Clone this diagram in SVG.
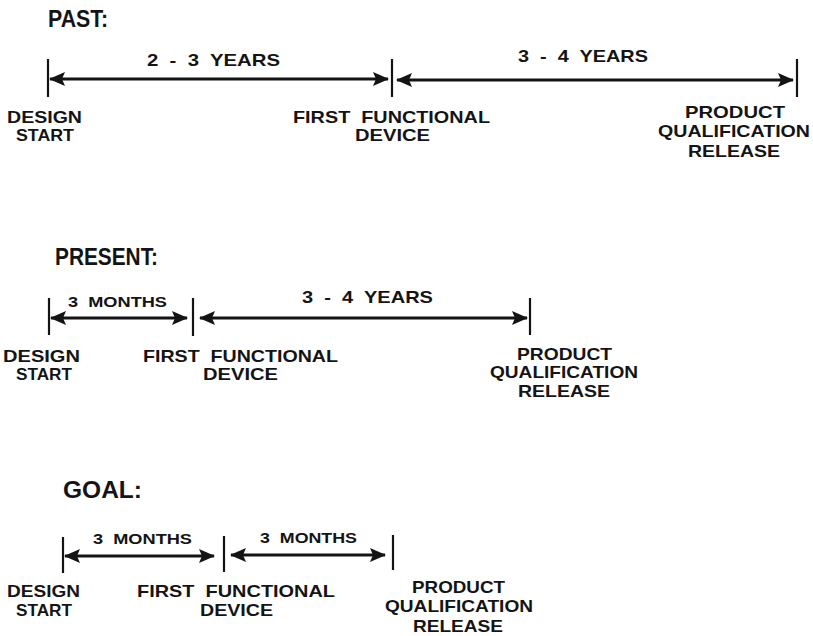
<svg xmlns="http://www.w3.org/2000/svg" width="813" height="636" viewBox="0 0 813 636" xml:space="preserve">
  <style>
    text { font-family: "Liberation Sans", Arial, Helvetica, sans-serif; font-weight: bold; fill: #141414; white-space: pre; }
    .head { font-size: 23px; }
    .lbl { font-size: 16.5px; }
    .dur { font-size: 17px; }
    .dur.sm { font-size: 15.5px; }
    .tick { stroke: #141414; stroke-width: 2.2; fill: none; }
    .span { stroke: #141414; stroke-width: 2.8; fill: none; marker-start: url(#arrowhead); marker-end: url(#arrowhead); }
  </style>
  <defs>
    <marker id="arrowhead" markerUnits="userSpaceOnUse" viewBox="0 0 16 14" markerWidth="16" markerHeight="14" refX="15" refY="7" orient="auto-start-reverse">
      <path d="M0,0 L16,7 L0,14 L3,7 z" fill="#141414"/>
    </marker>
  </defs>
  <rect width="813" height="636" fill="#fff"/>

  <!-- section headings -->
  <g id="headings">
    <text class="head" x="48" y="27" textLength="60" lengthAdjust="spacingAndGlyphs">PAST:</text>
    <text class="head" x="55" y="265" textLength="103" lengthAdjust="spacingAndGlyphs">PRESENT:</text>
    <text class="head" x="63" y="498" textLength="79" lengthAdjust="spacingAndGlyphs">GOAL:</text>
  </g>

  <!-- PAST timeline milestones -->
  <g id="past-design-start">
    <line class="tick" x1="48" y1="59" x2="48" y2="97"/>
    <text class="lbl" x="7" y="123" textLength="75" lengthAdjust="spacingAndGlyphs">DESIGN</text>
    <text class="lbl" x="16" y="141" textLength="58" lengthAdjust="spacingAndGlyphs">START</text>
  </g>
  <g id="past-first-device">
    <line class="tick" x1="392" y1="59" x2="392" y2="97"/>
    <text class="lbl" x="293" y="123" textLength="197" lengthAdjust="spacingAndGlyphs">FIRST  FUNCTIONAL</text>
    <text class="lbl" x="355" y="141" textLength="75" lengthAdjust="spacingAndGlyphs">DEVICE</text>
  </g>
  <g id="past-qualification">
    <line class="tick" x1="797" y1="59" x2="797" y2="97"/>
    <text class="lbl" x="685" y="118" textLength="100" lengthAdjust="spacingAndGlyphs">PRODUCT</text>
    <text class="lbl" x="658" y="137" textLength="152" lengthAdjust="spacingAndGlyphs">QUALIFICATION</text>
    <text class="lbl" x="688" y="157" textLength="92" lengthAdjust="spacingAndGlyphs">RELEASE</text>
  </g>

  <!-- PRESENT timeline milestones -->
  <g id="present-design-start">
    <line class="tick" x1="49" y1="298" x2="49" y2="335"/>
    <text class="lbl" x="3" y="362" textLength="77" lengthAdjust="spacingAndGlyphs">DESIGN</text>
    <text class="lbl" x="16" y="380" textLength="56" lengthAdjust="spacingAndGlyphs">START</text>
  </g>
  <g id="present-first-device">
    <line class="tick" x1="193" y1="298" x2="193" y2="336"/>
    <text class="lbl" x="143" y="362" textLength="195" lengthAdjust="spacingAndGlyphs">FIRST  FUNCTIONAL</text>
    <text class="lbl" x="203" y="380" textLength="75" lengthAdjust="spacingAndGlyphs">DEVICE</text>
  </g>
  <g id="present-qualification">
    <line class="tick" x1="530" y1="298" x2="530" y2="335"/>
    <text class="lbl" x="517" y="360" textLength="95" lengthAdjust="spacingAndGlyphs">PRODUCT</text>
    <text class="lbl" x="490" y="378" textLength="148" lengthAdjust="spacingAndGlyphs">QUALIFICATION</text>
    <text class="lbl" x="518" y="397" textLength="92" lengthAdjust="spacingAndGlyphs">RELEASE</text>
  </g>

  <!-- GOAL timeline milestones -->
  <g id="goal-design-start">
    <line class="tick" x1="63" y1="537" x2="63" y2="573"/>
    <text class="lbl" x="7" y="597" textLength="73" lengthAdjust="spacingAndGlyphs">DESIGN</text>
    <text class="lbl" x="16" y="616" textLength="56" lengthAdjust="spacingAndGlyphs">START</text>
  </g>
  <g id="goal-first-device">
    <line class="tick" x1="224" y1="536" x2="224" y2="572"/>
    <text class="lbl" x="137" y="597" textLength="198" lengthAdjust="spacingAndGlyphs">FIRST  FUNCTIONAL</text>
    <text class="lbl" x="200" y="616" textLength="73" lengthAdjust="spacingAndGlyphs">DEVICE</text>
  </g>
  <g id="goal-qualification">
    <line class="tick" x1="393" y1="535" x2="393" y2="570"/>
    <text class="lbl" x="412" y="593" textLength="93" lengthAdjust="spacingAndGlyphs">PRODUCT</text>
    <text class="lbl" x="385" y="612" textLength="148" lengthAdjust="spacingAndGlyphs">QUALIFICATION</text>
    <text class="lbl" x="413" y="632" textLength="90" lengthAdjust="spacingAndGlyphs">RELEASE</text>
  </g>

  <!-- duration spans between milestones -->
  <g id="connectors">
    <line class="span" x1="50" y1="79" x2="388" y2="79"/>
    <text class="dur" x="147" y="66" textLength="133" lengthAdjust="spacingAndGlyphs">2  -  3  YEARS</text>
    <line class="span" x1="397" y1="80" x2="793" y2="80"/>
    <text class="dur" x="518" y="62" textLength="130" lengthAdjust="spacingAndGlyphs">3  -  4  YEARS</text>

    <line class="span" x1="51" y1="318" x2="187" y2="318"/>
    <text class="dur sm" x="68" y="307" textLength="99" lengthAdjust="spacingAndGlyphs">3  MONTHS</text>
    <line class="span" x1="200" y1="318" x2="527" y2="318"/>
    <text class="dur" x="302" y="303" textLength="131" lengthAdjust="spacingAndGlyphs">3  -  4  YEARS</text>

    <line class="span" x1="65" y1="556" x2="214" y2="556"/>
    <text class="dur sm" x="93" y="544" textLength="99" lengthAdjust="spacingAndGlyphs">3  MONTHS</text>
    <line class="span" x1="231" y1="555" x2="385" y2="555"/>
    <text class="dur sm" x="260" y="543" textLength="97" lengthAdjust="spacingAndGlyphs">3  MONTHS</text>
  </g>
</svg>
